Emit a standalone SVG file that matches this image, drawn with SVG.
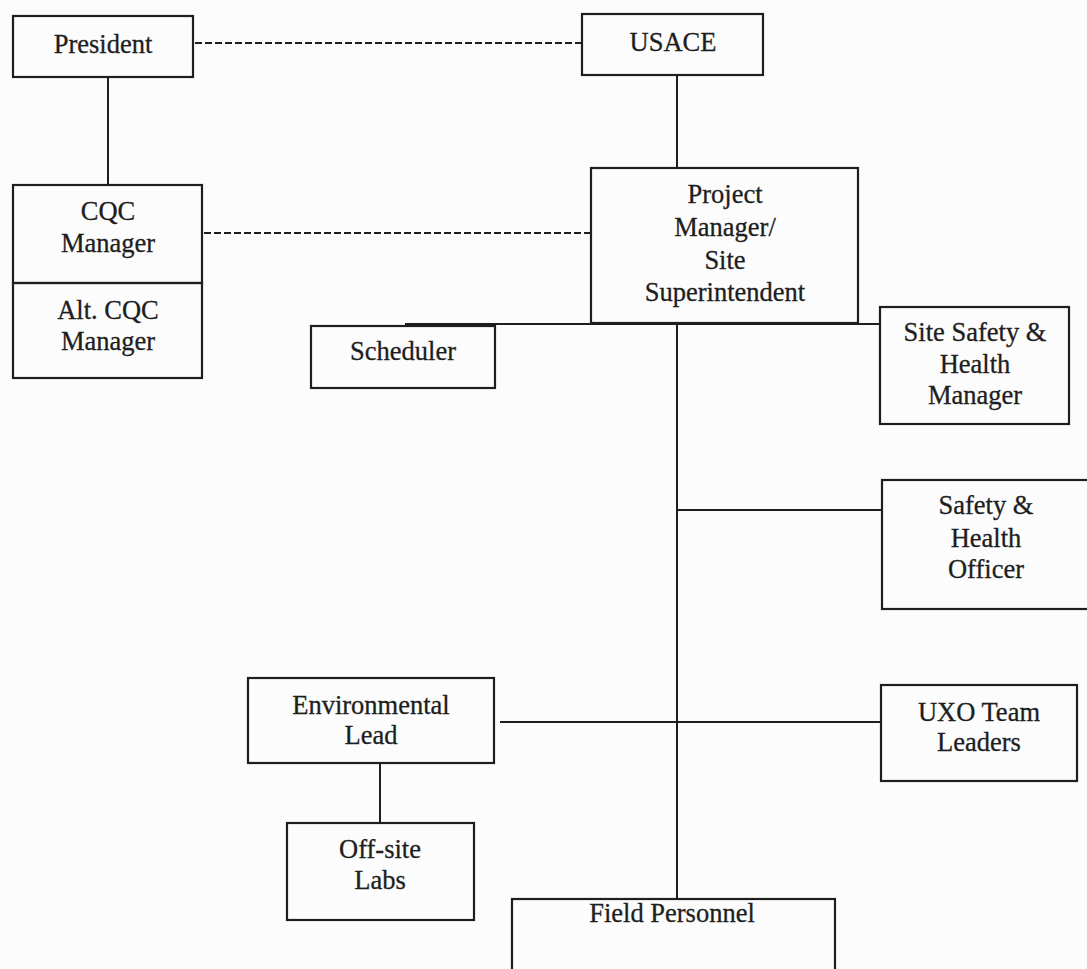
<svg xmlns="http://www.w3.org/2000/svg" width="1087" height="969" viewBox="0 0 1087 969">
<style>
.box{fill:none;stroke:#1e1e1e;stroke-width:2.2}
.ln{fill:none;stroke:#1e1e1e;stroke-width:2}
.dash{fill:none;stroke:#1e1e1e;stroke-width:2;stroke-dasharray:7 3}
text{font-family:"Liberation Serif","Times New Roman",serif;font-size:26.5px;fill:#1e1e1e;text-anchor:middle;stroke:#1e1e1e;stroke-width:0.3}
</style>
<rect width="1087" height="969" fill="#fcfcfc"/>
<g id="connectors">
<line class="dash" x1="195" y1="43" x2="582" y2="43"/>
<line class="dash" x1="204" y1="233" x2="591" y2="233"/>
<line class="ln" x1="108" y1="77" x2="108" y2="185"/>
<line class="ln" x1="677" y1="75" x2="677" y2="168"/>
<line class="ln" x1="677" y1="323" x2="677" y2="899"/>
<line class="ln" x1="405" y1="324" x2="880" y2="324"/>
<line class="ln" x1="677" y1="510" x2="882" y2="510"/>
<line class="ln" x1="500" y1="722" x2="881" y2="722"/>
<line class="ln" x1="380" y1="763" x2="380" y2="823"/>
</g>
<g id="president">
<rect class="box" x="13" y="16" width="180" height="61"/>
<text x="103" y="53">President</text>
</g>
<g id="usace">
<rect class="box" x="582" y="14" width="181" height="61"/>
<text x="673" y="51">USACE</text>
</g>
<g id="cqc-manager">
<rect class="box" x="13" y="185" width="189" height="98"/>
<text x="108" y="220">CQC</text>
<text x="108" y="252">Manager</text>
</g>
<g id="alt-cqc-manager">
<rect class="box" x="13" y="283" width="189" height="95"/>
<text x="108" y="319">Alt. CQC</text>
<text x="108" y="350">Manager</text>
</g>
<g id="project-manager">
<rect class="box" x="591" y="168" width="267" height="155"/>
<text x="725" y="203">Project</text>
<text x="725" y="236">Manager/</text>
<text x="725" y="269">Site</text>
<text x="725" y="301">Superintendent</text>
</g>
<g id="scheduler">
<rect class="box" x="311" y="326" width="184" height="62"/>
<text x="403" y="360">Scheduler</text>
</g>
<g id="site-safety-health-manager">
<rect class="box" x="880" y="307" width="189" height="117"/>
<text x="975" y="341">Site Safety &amp;</text>
<text x="975" y="373">Health</text>
<text x="975" y="404">Manager</text>
</g>
<g id="safety-health-officer">
<rect class="box" x="882" y="480" width="210" height="129"/>
<text x="986" y="514">Safety &amp;</text>
<text x="986" y="547">Health</text>
<text x="986" y="578">Officer</text>
</g>
<g id="uxo-team-leaders">
<rect class="box" x="881" y="685" width="196" height="96"/>
<text x="979" y="721">UXO Team</text>
<text x="979" y="751">Leaders</text>
</g>
<g id="environmental-lead">
<rect class="box" x="248" y="678" width="246" height="85"/>
<text x="371" y="714">Environmental</text>
<text x="371" y="744">Lead</text>
</g>
<g id="off-site-labs">
<rect class="box" x="287" y="823" width="187" height="97"/>
<text x="380" y="858">Off-site</text>
<text x="380" y="889">Labs</text>
</g>
<g id="field-personnel">
<rect class="box" x="512" y="899" width="323" height="80"/>
<text x="672" y="922">Field Personnel</text>
</g>
</svg>
